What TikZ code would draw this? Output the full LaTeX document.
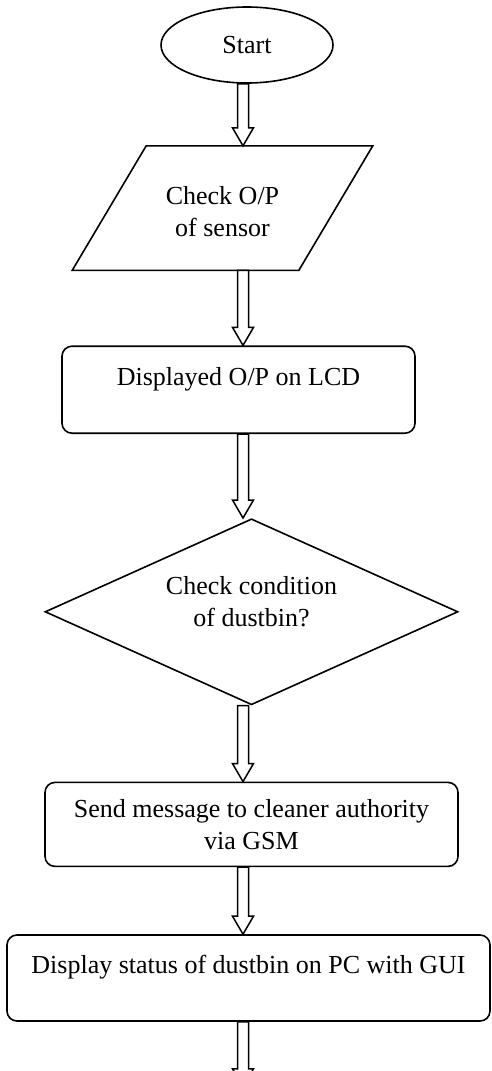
\documentclass[tikz,border=0pt]{standalone}
\usepackage{fontspec}
\setmainfont{Liberation Serif}
\usetikzlibrary{positioning}
\usetikzlibrary{calc}
\usetikzlibrary{shapes.geometric}

% hollow block arrow between two points
\newcommand{\blockarrow}[2]{%
  \draw[hollow] let \p1=(#1), \p2=(#2) in
    (\x1-5.5pt,\y1) -- (\x1-5.5pt,\y2+18pt) -- (\x1-10.5pt,\y2+18pt) -- (\x1,\y2)
    -- (\x1+10.5pt,\y2+18pt) -- (\x1+5.5pt,\y2+18pt) -- (\x1+5.5pt,\y1) -- cycle;}

\begin{document}
\begin{tikzpicture}[x=1pt, y=-1pt,
    every node/.style={font=\fontsize{26}{32}\selectfont, align=center, line width=1.6pt},
    terminal/.style={ellipse, draw, minimum width=172pt, minimum height=76pt, inner sep=0pt},
    io/.style={rectangle, minimum width=299pt, minimum height=123pt, inner sep=0pt, text height=58pt},
    process/.style={rectangle, rounded corners=10pt, draw, inner sep=0pt},
    decision/.style={diamond, draw, aspect=2.2, inner sep=0pt, minimum width=413pt, minimum height=186pt, text depth=20pt},
    hollow/.style={line width=1.5pt, fill=white}]
            \clip (0,0) rectangle (492,1071);
            \coordinate (spine) at (243,0);

            \node[terminal] (start) at (247,45) {Start};
            \node[io, below = 62pt of start, xshift=-24.5pt] (chk) {Check O/P\\of sensor};
            \draw[line width=1.6pt] ($(chk.north west)+(74,0)$) -- (chk.north east)
                -- ($(chk.south east)+(-74,0)$) -- (chk.south west) -- cycle;
            \node[process, minimum width=353pt, minimum height=87pt, text depth=26pt, below = 75pt of chk, xshift=16pt] (lcd) {Displayed O/P on LCD};
            \node[decision, below = 84pt of lcd, xshift=13pt] (cond) {Check condition\\of dustbin?};
            \node[process, minimum width=413pt, minimum height=84pt, below = 76pt of cond] (gsm) {Send message to cleaner authority\\via GSM};
            \node[process, minimum width=483pt, minimum height=86pt, text depth=27pt, below = 67pt of gsm, xshift=-3pt] (gui) {Display status of dustbin on PC with GUI};
            \coordinate[below = 65pt of gui] (stop);

            \blockarrow{spine |- start.south}{spine |- chk.north}
            \blockarrow{spine |- chk.south}{spine |- lcd.north}
            \blockarrow{spine |- lcd.south}{spine |- cond.north}
            \blockarrow{spine |- cond.south}{spine |- gsm.north}
            \blockarrow{spine |- gsm.south}{spine |- gui.north}
            \blockarrow{spine |- gui.south}{spine |- stop}
        \end{tikzpicture}
\end{document}
